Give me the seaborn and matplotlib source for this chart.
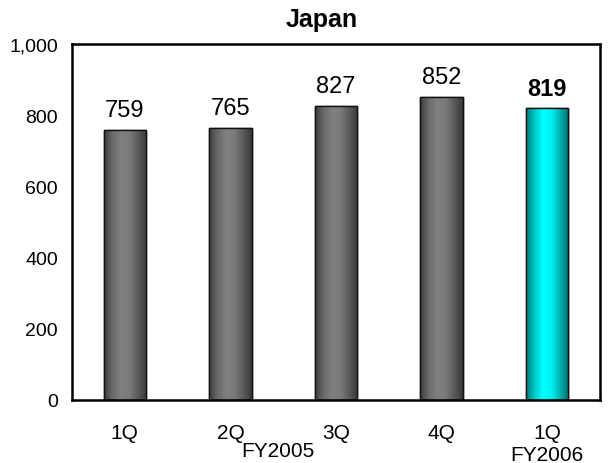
import numpy as np
import pandas as pd
import matplotlib
matplotlib.use("Agg")
import matplotlib.pyplot as plt
import seaborn as sns
from matplotlib.colors import LinearSegmentedColormap

categories = ["1Q", "2Q", "3Q", "4Q", "1Q "]
values = [759, 765, 827, 852, 819]
year_labels = ["FY2005", "FY2006"]
yticks = [0, 200, 400, 600, 800, 1000]
title = "Japan"

sns.set_theme(style="white")
plt.rcParams["font.family"] = ["Liberation Sans", "DejaVu Sans"]
plt.rcParams["text.color"] = "black"
plt.rcParams["xtick.color"] = "black"
plt.rcParams["ytick.color"] = "black"

df = pd.DataFrame({"q": categories, "v": values})
fig = plt.figure(figsize=(6.08, 4.64), dpi=100)
ax = fig.add_axes([72/608, 1-401/464, 528/608, 356/464])

sns.barplot(data=df, x="q", y="v", ax=ax, width=0.4, color="#707070",
            edgecolor="black", linewidth=1.0, saturation=1)

gray = LinearSegmentedColormap.from_list("g", ["#3c3c3c", "#6a6a6a", "#808080", "#7a7a7a", "#5a5a5a", "#383838"])
cyan = LinearSegmentedColormap.from_list("c", ["#007878", "#00c8c8", "#00ffff", "#00f0f0", "#00b0b0", "#006c6c"])
grad = np.linspace(0, 1, 256).reshape(1, -1)
bars = list(ax.patches)
for i, p in enumerate(bars):
    x0, y0 = p.get_x(), p.get_y()
    w, h = p.get_width(), p.get_height()
    cmap = cyan if i == len(bars) - 1 else gray
    im = ax.imshow(grad, cmap=cmap, aspect="auto", extent=[x0, x0 + w, y0, y0 + h],
                   zorder=p.get_zorder() + 0.1)
    im.set_clip_path(p)
    ax.add_patch(plt.Rectangle((x0, y0), w, h, fill=False, edgecolor="#111111",
                               linewidth=1.0, zorder=p.get_zorder() + 0.2))
    ax.text(x0 + w/2, y0 + h + 24, f"{values[i]}", ha="center", va="bottom",
            fontsize=17, color="black",
            fontweight="bold" if i == len(values) - 1 else "normal")

ax.set_xlim(-0.5, len(categories) - 0.5)
ax.set_ylim(0, 1000)
ax.set_yticks(yticks)
ax.set_yticklabels([f"{t:,}" for t in yticks], fontsize=14)
ax.tick_params(axis="y", direction="in", length=6, width=1, color="black", pad=10,
               labelcolor="black")
ax.set_xticks([0.5, 1.5, 2.5, 3.5])
ax.set_xticklabels([])
ax.tick_params(axis="x", direction="in", length=6, width=1, color="black")
ax.set_xlabel("")
ax.set_ylabel("")
for s in ax.spines.values():
    s.set_visible(True)
    s.set_color("black")
    s.set_linewidth(1.8)

trans = ax.get_xaxis_transform()
for i, c in enumerate(categories):
    ax.text(i, -0.092, c.strip(), transform=trans, ha="center", va="center",
            fontsize=15, color="black")
ax.text(1.45, -0.143, year_labels[0], transform=trans, ha="center", va="center",
        fontsize=15, color="black")
ax.text(4, -0.153, year_labels[1], transform=trans, ha="center", va="center",
        fontsize=15, color="black")

fig.text(322/608, 1 - 20/464, title, ha="center", va="center", fontsize=18,
         fontweight="bold", color="black")

fig.savefig("out.png", dpi=100)
